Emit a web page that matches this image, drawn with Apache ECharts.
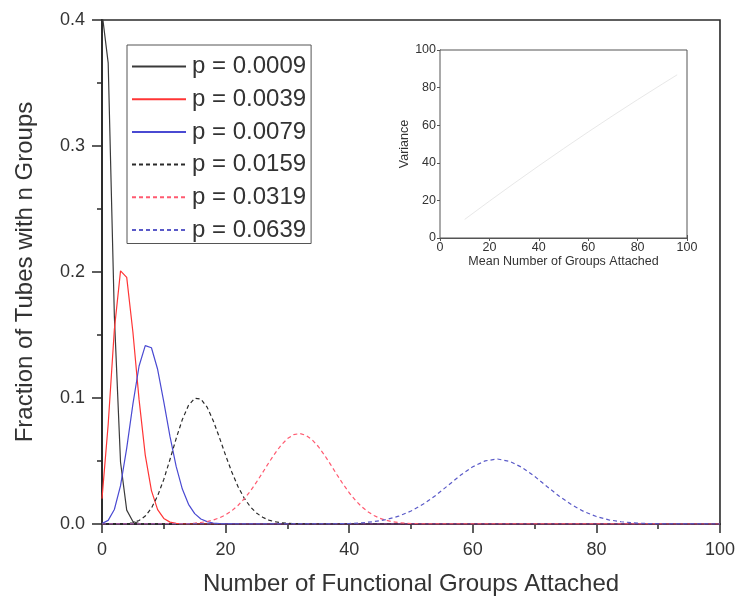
<!DOCTYPE html>
<html>
<head>
<meta charset="utf-8">
<script src="https://cdn.jsdelivr.net/npm/echarts@6/dist/echarts.min.js"></script>
<style>
  html, body { margin: 0; padding: 0; background: #fff; }
  #chart { width: 738px; height: 601px; }
</style>
</head>
<body>
<div id="chart"></div>
<script>
// Fraction of tubes carrying n functional groups, for six attachment probabilities p
const seriesNames = ['p = 0.0009', 'p = 0.0039', 'p = 0.0079', 'p = 0.0159', 'p = 0.0319', 'p = 0.0639'];

const n0009 = [0, 1, 2, 3, 4, 5, 6, 7, 100];
const f0009 = [0.406, 0.366, 0.165, 0.049, 0.011, 0.002, 0.0003, 0, 0];

const n0039 = [0, 1, 2, 3, 4, 5, 6, 7, 8, 9, 10, 11, 12, 13, 14, 100];
const f0039 = [0.0201, 0.0790, 0.1544, 0.2009, 0.1957, 0.1524, 0.0987, 0.0547, 0.0265, 0.0114, 0.0044, 0.0015, 0.0005, 0.0001, 0, 0];

const n0079 = [0, 1, 2, 3, 4, 5, 6, 7, 8, 9, 10, 11, 12, 13, 14, 15, 16, 17, 18, 19, 20, 21, 22, 100];
const f0079 = [0.0004, 0.0029, 0.0115, 0.0304, 0.0602, 0.0952, 0.1254, 0.1416, 0.1399, 0.1228, 0.0969, 0.0695,
               0.0457, 0.0277, 0.0156, 0.0082, 0.0040, 0.0019, 0.0008, 0.0003, 0.0001, 0.00005, 0, 0];

const n0159 = [0, 1, 2, 3, 4, 5, 6, 7, 8, 9, 10, 11, 12, 13, 14, 15, 16, 17, 18, 19, 20, 21, 22, 23, 24, 25,
               26, 27, 28, 29, 30, 31, 32, 33, 100];
const f0159 = [0, 0, 0, 0.0001, 0.0003, 0.0010, 0.0028, 0.0063, 0.0126, 0.0223, 0.0354, 0.0512, 0.0678, 0.0829,
               0.0942, 0.0998, 0.0992, 0.0928, 0.0820, 0.0686, 0.0545, 0.0413, 0.0298, 0.0206, 0.0137, 0.0087,
               0.0053, 0.0031, 0.0018, 0.0010, 0.0005, 0.0003, 0.0001, 0, 0];

const n0319 = [0, 14, 15, 16, 17, 18, 19, 20, 21, 22, 23, 24, 25, 26, 27, 28, 29, 30, 31, 32, 33, 34, 35, 36,
               37, 38, 39, 40, 41, 42, 43, 44, 45, 46, 47, 48, 49, 50, 52, 100];
const f0319 = [0, 0.0003, 0.0007, 0.0012, 0.0020, 0.0031, 0.0049, 0.0073, 0.0105, 0.0147, 0.0199, 0.0261, 0.0332,
               0.0409, 0.0487, 0.0561, 0.0627, 0.0677, 0.0709, 0.0718, 0.0704, 0.0669, 0.0615, 0.0547, 0.0471,
               0.0393, 0.0317, 0.0248, 0.0188, 0.0138, 0.0098, 0.0067, 0.0045, 0.0029, 0.0018, 0.0011, 0.0006,
               0.0004, 0.0001, 0];

const n0639 = [0, 35, 38, 40, 42, 44, 46, 48, 50, 52, 54, 56, 58, 60, 62, 64, 66, 68, 70, 72, 74, 76, 78, 80,
               82, 84, 86, 88, 90, 92, 100];
const f0639 = [0, 0.00005, 0.0002, 0.0004, 0.0009, 0.0019, 0.0035, 0.0062, 0.0103, 0.0158, 0.0227, 0.0306, 0.0386,
               0.0454, 0.0501, 0.0516, 0.0497, 0.0448, 0.0378, 0.0298, 0.0220, 0.0152, 0.0098, 0.0059, 0.0033,
               0.0018, 0.0009, 0.0004, 0.0002, 0.0001, 0];

// Inset: variance against mean number of attached groups
const insetMean = [10, 20, 30, 40, 50, 60, 70, 80, 90, 96];
const insetVariance = [9.9, 19.6, 29.1, 38.4, 47.5, 56.4, 65.1, 73.6, 81.9, 86.8];

const xTicks = { min: 0, max: 100, interval: 20 };
const yTicks = { min: 0, max: 0.4, interval: 0.1 };

const zip = (xs, ys) => xs.map((x, i) => [x, ys[i]]);
const FONT = 'Liberation Sans, Arial, Helvetica, sans-serif';
const INK = '#2a2a2a';

const styles = [
  { color: '#3a3a3a', type: 'solid' },
  { color: '#ff3535', type: 'solid' },
  { color: '#4a4ad2', type: 'solid' },
  { color: '#2a2a2a', type: [4, 3] },
  { color: '#ff5a70', type: [4, 3] },
  { color: '#5a5ac8', type: [4, 3] }
];
const dataSets = [
  zip(n0009, f0009), zip(n0039, f0039), zip(n0079, f0079),
  zip(n0159, f0159), zip(n0319, f0319), zip(n0639, f0639)
];

const mainSeries = seriesNames.map((name, i) => ({
  name,
  type: 'line',
  xAxisIndex: 0,
  yAxisIndex: 0,
  data: dataSets[i],
  symbol: 'none',
  smooth: false,
  lineStyle: { color: styles[i].color, type: styles[i].type, width: 1.2 },
  itemStyle: { color: styles[i].color },
  z: 3
}));

const chart = echarts.init(document.getElementById('chart'), null, { renderer: 'canvas' });
chart.setOption({
  backgroundColor: '#ffffff',
  animation: false,
  textStyle: { fontFamily: FONT },
  grid: [
    { left: 102, right: 17, top: 20, bottom: 74, show: true, borderColor: INK, borderWidth: 1.6, backgroundColor: 'transparent' },
    { left: 440, top: 50, width: 247, height: 188, show: true, borderColor: '#555', borderWidth: 1, backgroundColor: '#fff', z: 5 }
  ],
  legend: {
    orient: 'vertical',
    left: 127,
    top: 45,
    padding: [8, 5, 0, 4],
    itemWidth: 54,
    itemHeight: 14,
    itemGap: 5.7,
    borderColor: '#555',
    borderWidth: 1,
    backgroundColor: '#fff',
    // line-only keys: the marker dot is hidden
    itemStyle: { opacity: 0 },
    textStyle: { fontSize: 24, color: '#333', fontFamily: FONT, lineHeight: 27, padding: [0, 0, 0, 1] },
    data: seriesNames
  },
  xAxis: [
    {
      type: 'value', gridIndex: 0, min: xTicks.min, max: xTicks.max, interval: xTicks.interval,
      name: 'Number of Functional Groups Attached', nameLocation: 'middle', nameGap: 48,
      nameTextStyle: { fontSize: 24, color: '#333', fontFamily: FONT },
      axisLine: { lineStyle: { color: INK, width: 1.8 } },
      axisTick: { length: 9, lineStyle: { color: INK, width: 1.5 } },
      minorTick: { show: true, splitNumber: 2, length: 5, lineStyle: { color: INK, width: 1.5 } },
      axisLabel: { fontSize: 18, color: '#333', margin: 17, fontFamily: FONT },
      splitLine: { show: false }
    },
    {
      type: 'value', gridIndex: 1, min: 0, max: 100, interval: 20,
      name: 'Mean Number of Groups Attached', nameLocation: 'middle', nameGap: 15,
      nameTextStyle: { fontSize: 12.5, color: '#333', fontFamily: FONT },
      axisLine: { lineStyle: { color: '#555', width: 1 } },
      axisTick: { inside: true, length: 3, lineStyle: { color: '#555' } },
      axisLabel: { fontSize: 12.5, color: '#333', margin: 3, fontFamily: FONT },
      splitLine: { show: false }
    },
    {
      type: 'value', gridIndex: 1, position: 'top', min: 0, max: 100, interval: 20,
      axisLine: { show: false },
      axisTick: { inside: true, length: 3, lineStyle: { color: '#555' } },
      axisLabel: { show: false },
      splitLine: { show: false }
    }
  ],
  yAxis: [
    {
      type: 'value', gridIndex: 0, min: yTicks.min, max: yTicks.max, interval: yTicks.interval,
      name: 'Fraction of Tubes with n Groups', nameLocation: 'middle', nameGap: 65, nameRotate: 90,
      nameTextStyle: { fontSize: 24, color: '#333', fontFamily: FONT },
      axisLine: { show: true, lineStyle: { color: INK, width: 1.8 } },
      axisTick: { show: true, length: 10, lineStyle: { color: INK, width: 1.5 } },
      minorTick: { show: true, splitNumber: 2, length: 5, lineStyle: { color: INK, width: 1.5 } },
      axisLabel: { fontSize: 18, color: '#333', margin: 17, fontFamily: FONT, formatter: v => v.toFixed(1) },
      splitLine: { show: false }
    },
    {
      type: 'value', gridIndex: 1, min: 0, max: 100, interval: 20,
      name: 'Variance', nameLocation: 'middle', nameGap: 25, nameRotate: 90,
      nameTextStyle: { fontSize: 12.5, color: '#333', fontFamily: FONT },
      axisLine: { show: true, lineStyle: { color: '#555', width: 1 } },
      axisTick: { show: true, inside: true, length: 3, lineStyle: { color: '#555' } },
      axisLabel: { fontSize: 12.5, color: '#333', margin: 4, fontFamily: FONT },
      splitLine: { show: false }
    },
    {
      type: 'value', gridIndex: 1, position: 'right', min: 0, max: 100, interval: 20,
      axisLine: { show: false },
      axisTick: { show: true, inside: true, length: 3, lineStyle: { color: '#555' } },
      axisLabel: { show: false },
      splitLine: { show: false }
    }
  ],
  series: mainSeries.concat([
    {
      name: 'variance',
      type: 'line',
      xAxisIndex: 1,
      yAxisIndex: 1,
      data: zip(insetMean, insetVariance),
      symbol: 'none',
      lineStyle: { color: '#e8e8e8', width: 1 },
      z: 6
    }
  ])
});
</script>
</body>
</html>
